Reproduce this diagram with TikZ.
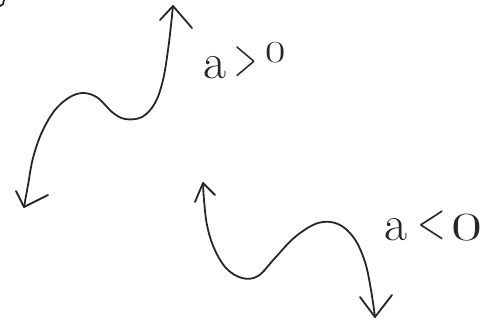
\documentclass[tikz,border=0pt]{standalone}
\begin{document}
\begin{tikzpicture}[x=1pt,y=-1pt,
  pen/.style={line width=1.8pt,color=black!85,line cap=round,line join=round},
  lbl/.style={font=\fontsize{50}{50}\selectfont,text=black!85,inner sep=0pt}]
\useasboundingbox (0,0) rectangle (503,322);
% tiny corner mark
\draw[pen] (0,6) -- (3,4) -- (4,0);
% curve a>0
\coordinate (b1) at (24,207);
\coordinate (t1) at (173,6);
\draw[pen] plot[smooth,tension=0.6] coordinates {(24,207) (28,185) (33,158) (42,132) (55,110) (70,97) (84,93) (98,98) (112,112) (125,119) (142,117) (155,103) (163,80) (168,50) (171,25) (173,6)};
\draw[pen] (160,20) -- (t1) -- (192,28);
\draw[pen] (16,191) -- (b1) -- (48,195);
\node[lbl,anchor=base west] (l1) at (203,78) {a\hspace{8pt}\raisebox{3pt}{\scalebox{0.6}[1.1]{>}}\hspace{8pt}\raisebox{16pt}{\scalebox{1.3}[0.9]{\fontsize{34}{34}\selectfont 0}}};
% curve a<0
\coordinate (t2) at (203,183);
\coordinate (b2) at (375,317);
\draw[pen] plot[smooth,tension=0.6] coordinates {(203,183) (204,200) (207,225) (214,248) (226,268) (242,278) (258,276) (275,258) (295,237) (318,223) (338,224) (354,238) (365,262) (371,290) (375,317)};
\draw[pen] (195,202) -- (t2) -- (215,195);
\draw[pen] (360,297) -- (b2) -- (392,295);
\node[lbl,anchor=base west] (l2) at (384,240) {a\hspace{10pt}\raisebox{2pt}{\scalebox{0.75}[1.05]{<}}\hspace{6pt}\scalebox{1.35}[0.8]{0}};
\end{tikzpicture}
\end{document}
